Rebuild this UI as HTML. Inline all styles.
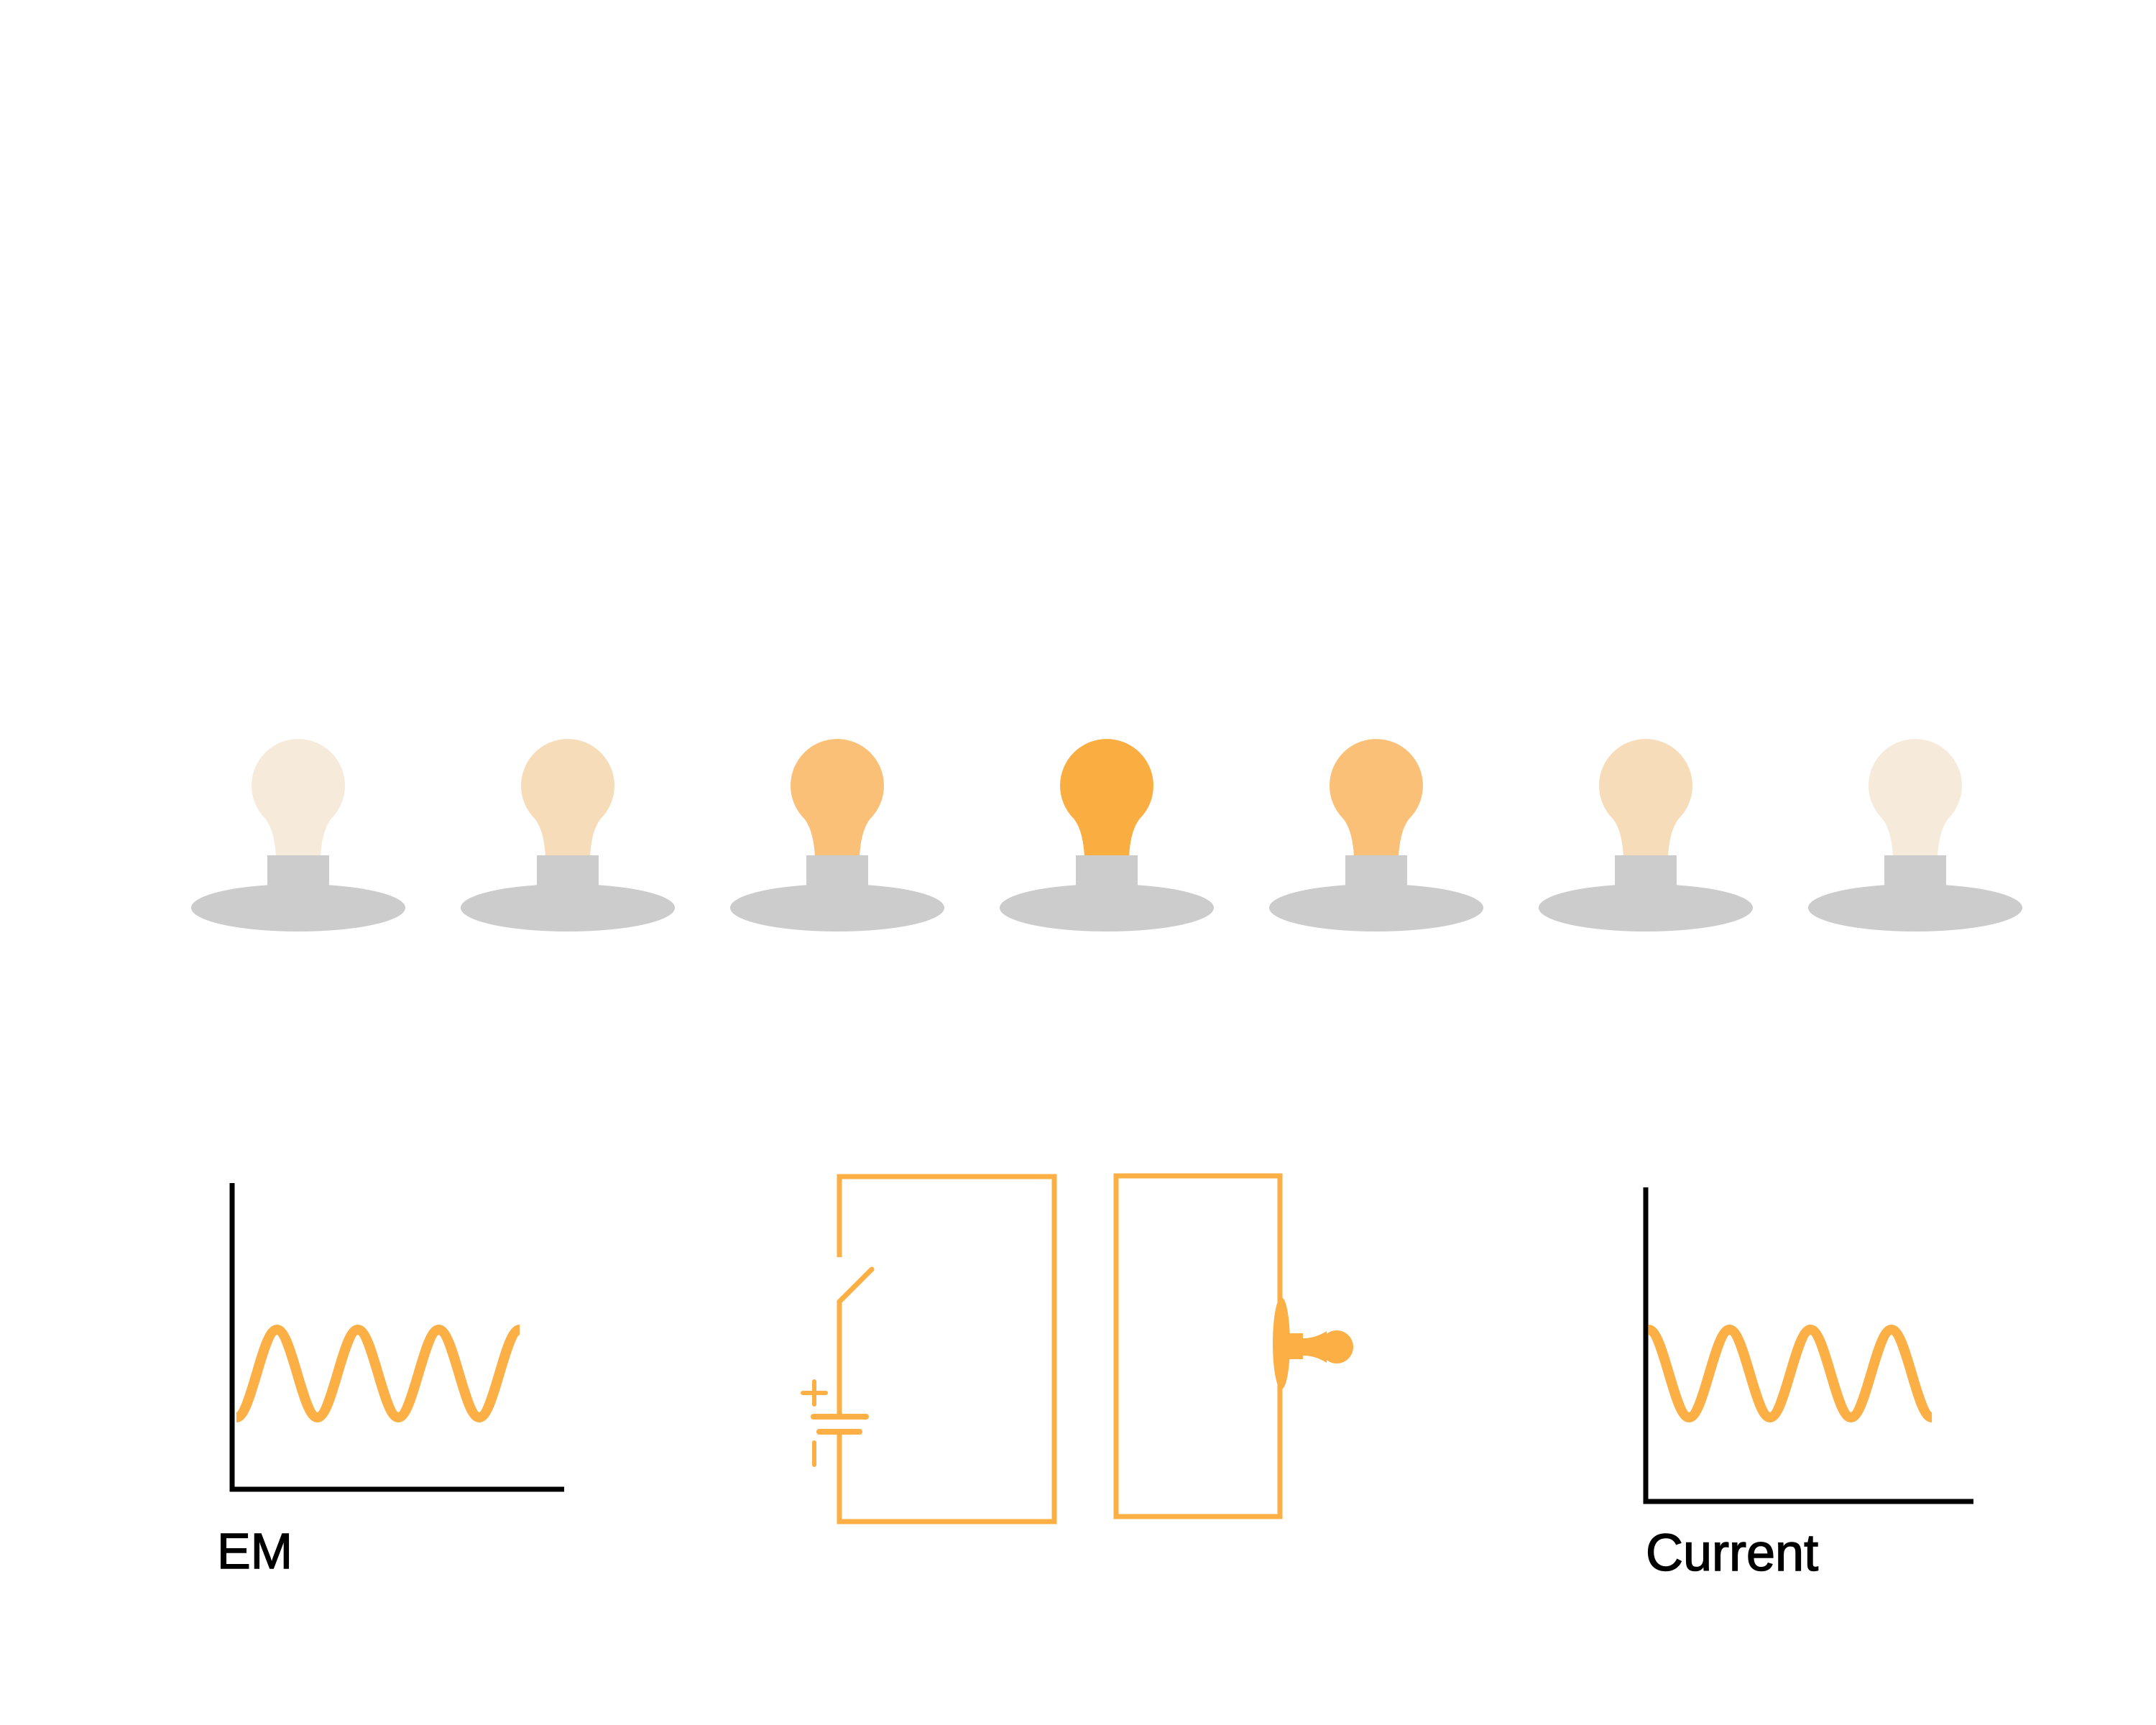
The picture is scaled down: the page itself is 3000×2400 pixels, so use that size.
<!DOCTYPE html>
<html><head><meta charset="utf-8"><style>
html,body{margin:0;padding:0;background:#fff}
svg{display:block}
text{font-family:"Liberation Sans",sans-serif}
</style></head><body>
<svg id="root" width="3000" height="2400" viewBox="0 0 3000 2400">
<rect width="3000" height="2400" fill="#fff"/>
<g id="bulbs"></g>
<g fill="none" stroke="#FBAF45" stroke-width="7" stroke-linecap="round">
  <path d="M1168 1749 V1637 H1467 V2117 H1168 V1992" stroke-linecap="butt"/>
  <path d="M1168 1971 V1811 L1213 1766"/>
  <line x1="1132" y1="1971" x2="1205" y2="1971" stroke-width="8"/>
  <line x1="1140" y1="1992" x2="1196" y2="1992" stroke-width="8"/>
  <path d="M1117 1938 H1149 M1133 1922 V1954" stroke-width="6"/>
  <line x1="1133" y1="2007" x2="1133" y2="2038" stroke-width="6"/>
</g>
<g>
  <rect x="1553" y="1636" width="228" height="474" fill="none" stroke="#FBAF45" stroke-width="7"/>
  <ellipse cx="1783" cy="1869" rx="12" ry="64" fill="#FBAF45"/>
  <rect x="1794" y="1855" width="19" height="36" fill="#FBAF45"/>
  <path d="M1813 1862 Q1830 1862 1846 1852 L1846 1896 Q1830 1886 1813 1886 Z" fill="#FBAF45"/>
  <circle cx="1860" cy="1874" r="23" fill="#FBAF45"/>
</g>
<g id="emChart">
  <path d="M323 1646 V2072 H785" fill="none" stroke="#000" stroke-width="7"/>
  <text x="302" y="2182" font-size="70" fill="#000" stroke="#000" stroke-width="1.5">EM</text>
</g>
<g id="curChart">
  <path d="M2290 1652 V2089 H2746" fill="none" stroke="#000" stroke-width="7"/>
  <text x="2290" y="2185" font-size="72" fill="#000" stroke="#000" stroke-width="1.5">Current</text>
</g>
</svg>
<script>
// bulb brightness colours, left to right
const bulbColors = ["#F6EADB", "#F7DCBA", "#FBC078", "#FAAE42", "#FBC078", "#F7DCBA", "#F6EADB"];
// EM wave extrema: phase index (half-cycles) and value (+1 peak, -1 trough)
const emHalfCycles = [0, 1, 2, 3, 4, 5, 6, 7];
const emValues = [-1, 1, -1, 1, -1, 1, -1, 1];
const curHalfCycles = [0, 1, 2, 3, 4, 5, 6, 7];
const curValues = [1, -1, 1, -1, 1, -1, 1, -1];

const NS = "http://www.w3.org/2000/svg";
function mk(tag, attrs, parent) {
  const e = document.createElementNS(NS, tag);
  for (const k in attrs) e.setAttribute(k, attrs[k]);
  parent.appendChild(e);
  return e;
}
const bulbs = document.getElementById('bulbs');
bulbColors.forEach((c, i) => {
  const cx = 415 + i * 375;
  const g = mk('g', {}, bulbs);
  
  
  const glob = mk('path', {fill: c, d:
    `M${cx-46} 1139 A65 65 0 1 1 ${cx+46} 1139 Q${cx+33} 1155 ${cx+31} 1192 L${cx-31} 1192 Q${cx-33} 1155 ${cx-46} 1139 Z`}, g);
  
  
  const el = mk('ellipse', {cx: cx, cy: 1263, rx: 149, ry: 33, fill: '#CCCCCC'}, g);
  
  
  const r = mk('rect', {x: cx - 43, y: 1190, width: 86, height: 45, fill: '#CCCCCC'}, g);
  
  
});

function wave(parent, x0, half, yMid, amp, phases, vals, name) {
  const xs = p => x0 + p * half;
  const ys = v => yMid - v * amp;
  let d = `M${xs(phases[0])} ${ys(vals[0])}`;
  for (let i = 1; i < phases.length; i++) {
    const xa = xs(phases[i-1]), xb = xs(phases[i]);
    const k = (xb - xa) * 0.3642;
    d += ` C${xa + k} ${ys(vals[i-1])} ${xb - k} ${ys(vals[i])} ${xb} ${ys(vals[i])}`;
  }
  const p = mk('path', {d: d, fill: 'none', stroke: '#FBAF45', 'stroke-width': 14}, parent);
  
  
}
wave(document.getElementById('emChart'), 329, 56.3, 1911, 61, emHalfCycles, emValues, 'em-wave');
wave(document.getElementById('curChart'), 2294, 56.3, 1911, 61, curHalfCycles, curValues, 'current-wave');
</script>
</body></html>
